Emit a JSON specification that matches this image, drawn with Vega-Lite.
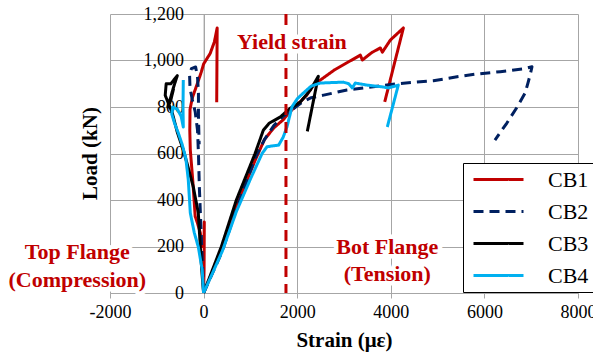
{
"$schema": "https://vega.github.io/schema/vega-lite/v6.json",
"width": 468, "height": 279,
"autosize": {"type": "none"},
"padding": {"left": 110, "top": 14, "right": 15, "bottom": 61},
"config": {"view": {"stroke": null}, "font": "Liberation Serif",
 "axis": {"labelFont": "Liberation Serif", "titleFont": "Liberation Serif"},
 "legend": {"labelFont": "Liberation Serif", "titleFont": "Liberation Serif"},
 "text": {"font": "Liberation Serif"}},
"datasets": {
"yield": [{"x": 1760}],
"notes": [
{"t": "Yield strain", "x": 1886, "y": 1079},
{"t": "Top Flange", "x": -2699, "y": 176},
{"t": "(Compression)", "x": -2699, "y": 56},
{"t": "Bot Flange", "x": 3925, "y": 198},
{"t": "(Tension)", "x": 3925, "y": 82}
],
"curves": [
{"s":"CB1","p":"t","i":0,"x":0,"y":0},{"s":"CB1","p":"t","i":1,"x":10,"y":100},{"s":"CB1","p":"t","i":2,"x":15,"y":305},{"s":"CB1","p":"t","i":3,"x":10,"y":230},{"s":"CB1","p":"t","i":4,"x":-30,"y":200},{"s":"CB1","p":"t","i":5,"x":-70,"y":258},{"s":"CB1","p":"t","i":6,"x":-130,"y":300},{"s":"CB1","p":"t","i":7,"x":-180,"y":330},{"s":"CB1","p":"t","i":8,"x":-230,"y":480},{"s":"CB1","p":"t","i":9,"x":-284,"y":615},{"s":"CB1","p":"t","i":10,"x":-295,"y":700},{"s":"CB1","p":"t","i":11,"x":-290,"y":790},{"s":"CB1","p":"t","i":12,"x":-240,"y":840},{"s":"CB1","p":"t","i":13,"x":-135,"y":900},{"s":"CB1","p":"t","i":14,"x":-50,"y":950},{"s":"CB1","p":"t","i":15,"x":0,"y":985},{"s":"CB1","p":"t","i":16,"x":140,"y":1030},{"s":"CB1","p":"t","i":17,"x":230,"y":1080},{"s":"CB1","p":"t","i":18,"x":290,"y":1140},{"s":"CB1","p":"t","i":19,"x":280,"y":820},
{"s":"CB1","p":"b","i":0,"x":0,"y":0},{"s":"CB1","p":"b","i":1,"x":400,"y":190},{"s":"CB1","p":"b","i":2,"x":700,"y":370},{"s":"CB1","p":"b","i":3,"x":1100,"y":570},{"s":"CB1","p":"b","i":4,"x":1300,"y":660},{"s":"CB1","p":"b","i":5,"x":1500,"y":710},{"s":"CB1","p":"b","i":6,"x":1700,"y":745},{"s":"CB1","p":"b","i":7,"x":1850,"y":780},{"s":"CB1","p":"b","i":8,"x":2000,"y":810},{"s":"CB1","p":"b","i":9,"x":2200,"y":850},{"s":"CB1","p":"b","i":10,"x":2344,"y":894},{"s":"CB1","p":"b","i":11,"x":2800,"y":960},{"s":"CB1","p":"b","i":12,"x":3349,"y":1023},{"s":"CB1","p":"b","i":13,"x":3392,"y":1002},{"s":"CB1","p":"b","i":14,"x":3600,"y":1035},{"s":"CB1","p":"b","i":15,"x":3777,"y":1054},{"s":"CB1","p":"b","i":16,"x":3820,"y":1036},{"s":"CB1","p":"b","i":17,"x":3991,"y":1088},{"s":"CB1","p":"b","i":18,"x":4269,"y":1140},{"s":"CB1","p":"b","i":19,"x":3870,"y":822},
{"s":"CB2","p":"t","i":0,"x":0,"y":0},{"s":"CB2","p":"t","i":1,"x":-30,"y":150},{"s":"CB2","p":"t","i":2,"x":-60,"y":300},{"s":"CB2","p":"t","i":3,"x":-90,"y":450},{"s":"CB2","p":"t","i":4,"x":-110,"y":600},{"s":"CB2","p":"t","i":5,"x":-130,"y":700},{"s":"CB2","p":"t","i":6,"x":-180,"y":780},{"s":"CB2","p":"t","i":7,"x":-240,"y":830},{"s":"CB2","p":"t","i":8,"x":-290,"y":880},{"s":"CB2","p":"t","i":9,"x":-300,"y":940},{"s":"CB2","p":"t","i":10,"x":-260,"y":965},{"s":"CB2","p":"t","i":11,"x":-170,"y":972},{"s":"CB2","p":"t","i":12,"x":-130,"y":930},{"s":"CB2","p":"t","i":13,"x":-110,"y":860},{"s":"CB2","p":"t","i":14,"x":-110,"y":760},{"s":"CB2","p":"t","i":15,"x":-100,"y":680},{"s":"CB2","p":"t","i":16,"x":-95,"y":640},
{"s":"CB2","p":"b","i":0,"x":0,"y":0},{"s":"CB2","p":"b","i":1,"x":400,"y":180},{"s":"CB2","p":"b","i":2,"x":700,"y":360},{"s":"CB2","p":"b","i":3,"x":1100,"y":580},{"s":"CB2","p":"b","i":4,"x":1300,"y":660},{"s":"CB2","p":"b","i":5,"x":1500,"y":720},{"s":"CB2","p":"b","i":6,"x":1700,"y":760},{"s":"CB2","p":"b","i":7,"x":1900,"y":790},{"s":"CB2","p":"b","i":8,"x":2100,"y":820},{"s":"CB2","p":"b","i":9,"x":2300,"y":840},{"s":"CB2","p":"b","i":10,"x":2565,"y":851},{"s":"CB2","p":"b","i":11,"x":3064,"y":873},{"s":"CB2","p":"b","i":12,"x":3627,"y":887},{"s":"CB2","p":"b","i":13,"x":4132,"y":900},{"s":"CB2","p":"b","i":14,"x":4910,"y":913},{"s":"CB2","p":"b","i":15,"x":5416,"y":930},{"s":"CB2","p":"b","i":16,"x":5842,"y":942},{"s":"CB2","p":"b","i":17,"x":6340,"y":952},{"s":"CB2","p":"b","i":18,"x":6832,"y":964},{"s":"CB2","p":"b","i":19,"x":7017,"y":973},{"s":"CB2","p":"b","i":20,"x":6980,"y":940},{"s":"CB2","p":"b","i":21,"x":6930,"y":903},{"s":"CB2","p":"b","i":22,"x":6870,"y":860},{"s":"CB2","p":"b","i":23,"x":6700,"y":800},{"s":"CB2","p":"b","i":24,"x":6480,"y":731},{"s":"CB2","p":"b","i":25,"x":6225,"y":658},
{"s":"CB3","p":"t","i":0,"x":0,"y":0},{"s":"CB3","p":"t","i":1,"x":-40,"y":100},{"s":"CB3","p":"t","i":2,"x":-70,"y":198},{"s":"CB3","p":"t","i":3,"x":-113,"y":344},{"s":"CB3","p":"t","i":4,"x":-220,"y":456},{"s":"CB3","p":"t","i":5,"x":-330,"y":540},{"s":"CB3","p":"t","i":6,"x":-434,"y":615},{"s":"CB3","p":"t","i":7,"x":-560,"y":690},{"s":"CB3","p":"t","i":8,"x":-669,"y":774},{"s":"CB3","p":"t","i":9,"x":-760,"y":820},{"s":"CB3","p":"t","i":10,"x":-820,"y":850},{"s":"CB3","p":"t","i":11,"x":-800,"y":900},{"s":"CB3","p":"t","i":12,"x":-700,"y":900},{"s":"CB3","p":"t","i":13,"x":-562,"y":935},{"s":"CB3","p":"t","i":14,"x":-650,"y":880},{"s":"CB3","p":"t","i":15,"x":-760,"y":800},{"s":"CB3","p":"t","i":16,"x":-700,"y":830},{"s":"CB3","p":"t","i":17,"x":-640,"y":880},
{"s":"CB3","p":"b","i":0,"x":0,"y":0},{"s":"CB3","p":"b","i":1,"x":380,"y":200},{"s":"CB3","p":"b","i":2,"x":700,"y":400},{"s":"CB3","p":"b","i":3,"x":1100,"y":600},{"s":"CB3","p":"b","i":4,"x":1276,"y":700},{"s":"CB3","p":"b","i":5,"x":1400,"y":730},{"s":"CB3","p":"b","i":6,"x":1639,"y":757},{"s":"CB3","p":"b","i":7,"x":1853,"y":795},{"s":"CB3","p":"b","i":8,"x":2067,"y":821},{"s":"CB3","p":"b","i":9,"x":2281,"y":873},{"s":"CB3","p":"b","i":10,"x":2451,"y":932},{"s":"CB3","p":"b","i":11,"x":2216,"y":695},
{"s":"CB4","p":"t","i":0,"x":0,"y":0},{"s":"CB4","p":"t","i":1,"x":-30,"y":100},{"s":"CB4","p":"t","i":2,"x":-113,"y":198},{"s":"CB4","p":"t","i":3,"x":-200,"y":260},{"s":"CB4","p":"t","i":4,"x":-284,"y":344},{"s":"CB4","p":"t","i":5,"x":-327,"y":486},{"s":"CB4","p":"t","i":6,"x":-380,"y":580},{"s":"CB4","p":"t","i":7,"x":-460,"y":640},{"s":"CB4","p":"t","i":8,"x":-540,"y":688},{"s":"CB4","p":"t","i":9,"x":-620,"y":730},{"s":"CB4","p":"t","i":10,"x":-680,"y":770},{"s":"CB4","p":"t","i":11,"x":-660,"y":800},{"s":"CB4","p":"t","i":12,"x":-560,"y":790},{"s":"CB4","p":"t","i":13,"x":-480,"y":760},{"s":"CB4","p":"t","i":14,"x":-434,"y":714},{"s":"CB4","p":"t","i":15,"x":-440,"y":800},{"s":"CB4","p":"t","i":16,"x":-434,"y":916},
{"s":"CB4","p":"b","i":0,"x":0,"y":0},{"s":"CB4","p":"b","i":1,"x":400,"y":180},{"s":"CB4","p":"b","i":2,"x":700,"y":350},{"s":"CB4","p":"b","i":3,"x":1000,"y":490},{"s":"CB4","p":"b","i":4,"x":1250,"y":600},{"s":"CB4","p":"b","i":5,"x":1355,"y":629},{"s":"CB4","p":"b","i":6,"x":1450,"y":632},{"s":"CB4","p":"b","i":7,"x":1603,"y":636},{"s":"CB4","p":"b","i":8,"x":1700,"y":670},{"s":"CB4","p":"b","i":9,"x":1782,"y":715},{"s":"CB4","p":"b","i":10,"x":1889,"y":801},{"s":"CB4","p":"b","i":11,"x":2000,"y":835},{"s":"CB4","p":"b","i":12,"x":2130,"y":860},{"s":"CB4","p":"b","i":13,"x":2300,"y":890},{"s":"CB4","p":"b","i":14,"x":2494,"y":903},{"s":"CB4","p":"b","i":15,"x":2985,"y":907},{"s":"CB4","p":"b","i":16,"x":3100,"y":900},{"s":"CB4","p":"b","i":17,"x":3177,"y":882},{"s":"CB4","p":"b","i":18,"x":3241,"y":903},{"s":"CB4","p":"b","i":19,"x":3497,"y":894},{"s":"CB4","p":"b","i":20,"x":3839,"y":886},{"s":"CB4","p":"b","i":21,"x":3946,"y":882},{"s":"CB4","p":"b","i":22,"x":4160,"y":894},{"s":"CB4","p":"b","i":23,"x":3925,"y":714}
]
},
"layer": [
{"data": {"name": "curves"},
 "mark": {"type": "line", "strokeWidth": 3, "strokeJoin": "round", "strokeCap": "butt"},
 "encoding": {
  "x": {"field": "x", "type": "quantitative", "scale": {"domain": [-2000, 8000], "nice": false, "zero": false},
   "axis": {"title": "Strain (με)", "values": [-2000, 0, 2000, 4000, 6000, 8000], "labelExpr": "'' + datum.value", "labelFlush": false, "labelOverlap": false, "labelBound": false, "grid": true, "gridColor": "#A6A6A6", "domainColor": "#A6A6A6", "tickColor": "#A6A6A6", "tickSize": 5, "labelFont": "Liberation Serif", "labelFontSize": 18, "labelColor": "black", "labelPadding": 5, "titleFont": "Liberation Serif", "titleFontSize": 21, "titleFontWeight": "bold", "titleColor": "black", "titlePadding": 8}},
  "y": {"field": "y", "type": "quantitative", "scale": {"domain": [0, 1200], "nice": false},
   "axis": {"title": "Load (kN)", "values": [0, 200, 400, 600, 800, 1000, 1200], "format": ",.0f", "offset": -93.6, "labelFlush": false, "labelOverlap": false, "labelBound": false, "grid": true, "gridColor": "#A6A6A6", "domainColor": "#A6A6A6", "ticks": false, "labelFont": "Liberation Serif", "labelFontSize": 18, "labelColor": "black", "labelPadding": 20, "titleFont": "Liberation Serif", "titleFontSize": 21, "titleFontWeight": "bold", "titleColor": "black", "titleX": -113, "titleY": 139, "titleBaseline": "middle", "titleAlign": "center"}},
  "color": {"field": "s", "type": "nominal", "scale": {"domain": ["CB1", "CB2", "CB3", "CB4"], "range": ["#C00000", "#002060", "#000000", "#00B0F0"]},
   "legend": {"orient": "none", "legendX": 353, "legendY": 149, "title": null, "symbolType": "M-2.5,0H2.5", "symbolSize": 400, "symbolStrokeWidth": 3, "symbolOffset": 19, "labelFont": "Liberation Serif", "labelFontSize": 22, "labelColor": "black", "labelOffset": 38, "strokeColor": "black", "fillColor": "white", "padding": 5, "rowPadding": 9}},
  "strokeDash": {"field": "s", "type": "nominal", "scale": {"domain": ["CB1", "CB2", "CB3", "CB4"], "range": [[1, 0], [10, 6], [1, 0], [1, 0]]},
   "legend": {"orient": "none", "legendX": 353, "legendY": 149, "title": null, "symbolType": "M-2.5,0H2.5", "symbolSize": 400, "symbolStrokeWidth": 3, "symbolOffset": 19, "labelFont": "Liberation Serif", "labelFontSize": 22, "labelColor": "black", "labelOffset": 38, "strokeColor": "black", "fillColor": "white", "padding": 5, "rowPadding": 9}},
  "detail": {"field": "p"},
  "order": {"field": "i", "type": "quantitative"}
 }},
{"data": {"name": "yield"},
 "mark": {"type": "rule", "color": "#C00000", "strokeWidth": 3, "strokeDash": [11, 7]},
 "encoding": {"x": {"field": "x", "type": "quantitative"}}},
{"data": {"name": "notes"},
 "mark": {"type": "text", "font": "Liberation Serif", "fontSize": 22, "fontWeight": "bold", "color": "white", "stroke": "white", "strokeWidth": 9, "strokeJoin": "round", "baseline": "middle", "align": "center"},
 "encoding": {"x": {"field": "x", "type": "quantitative"}, "y": {"field": "y", "type": "quantitative"}, "text": {"field": "t"}}},
{"data": {"name": "notes"},
 "mark": {"type": "text", "font": "Liberation Serif", "fontSize": 22, "fontWeight": "bold", "color": "#C00000", "baseline": "middle", "align": "center"},
 "encoding": {"x": {"field": "x", "type": "quantitative"}, "y": {"field": "y", "type": "quantitative"}, "text": {"field": "t"}}}
]
}
